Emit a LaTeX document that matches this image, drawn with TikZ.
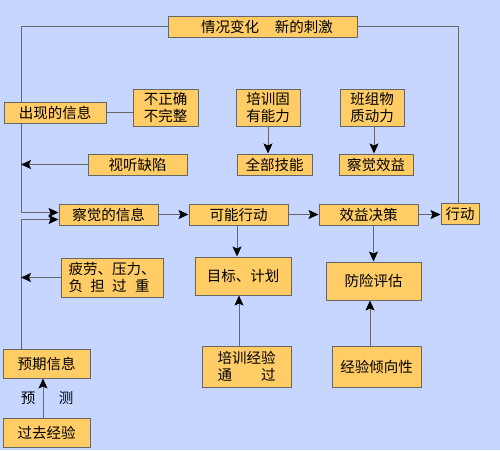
\documentclass[tikz,border=0pt]{standalone}
\usepackage{fontspec}
\newfontfamily\cjk{Noto Sans CJK SC}
\usetikzlibrary{arrows.meta,backgrounds}
\definecolor{bg}{RGB}{198,214,254}
\definecolor{boxfill}{RGB}{255,204,102}
\definecolor{edge}{RGB}{102,102,102}
\begin{document}
\begin{tikzpicture}[x=1pt,y=-1pt,
  box/.style={draw=edge,line width=1pt,fill=boxfill,inner sep=0pt,
    font=\cjk\fontsize{14.5}{16.5}\selectfont,text=black},
  lbl/.style={inner sep=0pt,font=\cjk\fontsize{14.5}{16.5}\selectfont,text=black},
  conn/.style={draw=edge,line width=1pt},
  arr/.style={conn,-{Stealth[length=10pt,width=9pt,inset=2pt,color=black]}}]
\useasboundingbox (0,0) rectangle (500,450);
\begin{scope}[on background layer]
  \fill[bg] (0,0) rectangle (500,450);
\end{scope}

% boxes
\node[box,minimum width=189pt,minimum height=21pt] (sit) at (262.5,26.5) {\hspace{9pt}情况变化\hspace{16pt}新的刺激};
\node[box,minimum width=102pt,minimum height=21pt] (appear) at (55,112.5) {出现的信息};
\node[box,minimum width=65pt,minimum height=37pt,align=center] (incorrect) at (165.5,107.5) {不正确\\不完整};
\node[box,minimum width=64pt,minimum height=37pt,align=center] (trainab) at (268,107.5) {培训固\\有能力};
\node[box,minimum width=64pt,minimum height=37pt,align=center] (team) at (372,107.5) {班组物\\质动力};
\node[box,minimum width=99pt,minimum height=21pt] (defect) at (137.5,164.5) {视听缺陷};
\node[box,minimum width=75pt,minimum height=21pt] (skills) at (274.5,164.5) {全部技能};
\node[box,minimum width=74pt,minimum height=21pt] (pbenefit) at (376,164.5) {察觉效益};
\node[box,minimum width=99pt,minimum height=21pt] (pinfo) at (108.5,214.5) {察觉的信息};
\node[box,minimum width=99pt,minimum height=21pt] (possible) at (238.5,214.5) {可能行动};
\node[box,minimum width=99pt,minimum height=21pt] (decision) at (368.5,214.5) {效益决策};
\node[box,minimum width=38pt,minimum height=21pt] (act) at (460,213.5) {行动};
\node[box,minimum width=102pt,minimum height=39pt,align=left] (fatigue) at (112,277.5) {疲劳、压力、\\负\hspace{0.5em}担\hspace{0.5em}过\hspace{0.6em}重};
\node[box,minimum width=96pt,minimum height=38pt] (goal) at (243,276) {目标、计划};
\node[box,minimum width=95pt,minimum height=38pt] (risk) at (373.5,281) {防险评估};
\node[box,minimum width=87pt,minimum height=29pt] (expect) at (46.5,363.5) {预期信息};
\node[box,minimum width=87pt,minimum height=29pt] (past) at (46.5,432.5) {过去经验};
\node[box,minimum width=89pt,minimum height=41pt,align=left] (trainexp) at (246.5,366.5) {培训经验\\通\hspace{2em}过};
\node[box,minimum width=89pt,minimum height=41pt] (tendency) at (376.5,366.5) {经验倾向性};

\node[lbl] (yu) at (28,398) {预};
\node[lbl] (ce) at (66,398) {测};

\coordinate (leftx) at (21,0);

% connectors
\begin{scope}[on background layer]
  \draw[arr] (sit.west) -| ([yshift=2pt]pinfo.west -| leftx) -- ([yshift=2pt]pinfo.west);
  \draw[arr] (expect.north -| leftx) |- ([yshift=-5pt]pinfo.west);
  \draw[conn] (appear.east) -- (appear.east -| incorrect.west);
  \draw[arr] (defect.west) -- (defect.west -| leftx);
  \draw[arr] (fatigue.west) -- (fatigue.west -| leftx);
  \draw[arr] ([xshift=-3.5pt]past.north) -- ([xshift=-3.5pt]past.north |- expect.south);
  \draw[arr] (trainab.south) -- (trainab.south |- skills.north);
  \draw[arr] ([xshift=2pt]team.south) -- ([xshift=2pt]team.south |- pbenefit.north);
  \draw[arr] (pinfo.east) -- (possible.west);
  \draw[arr] (possible.east) -- (decision.west);
  \draw[arr] (decision.east) -- (decision.east -| act.west);
  \draw[conn] ([xshift=-2pt]act.north) |- (sit.east);
  \draw[arr] ([xshift=-1.5pt]possible.south) -- ([xshift=-1.5pt]possible.south |- goal.north);
  \draw[arr] (risk.north |- decision.south) -- (risk.north);
  \draw[arr] ([xshift=-4pt]goal.south |- trainexp.north) -- ([xshift=-4pt]goal.south);
  \draw[arr] ([xshift=-3.5pt]risk.south |- tendency.north) -- ([xshift=-3.5pt]risk.south);
\end{scope}
\end{tikzpicture}
\end{document}
